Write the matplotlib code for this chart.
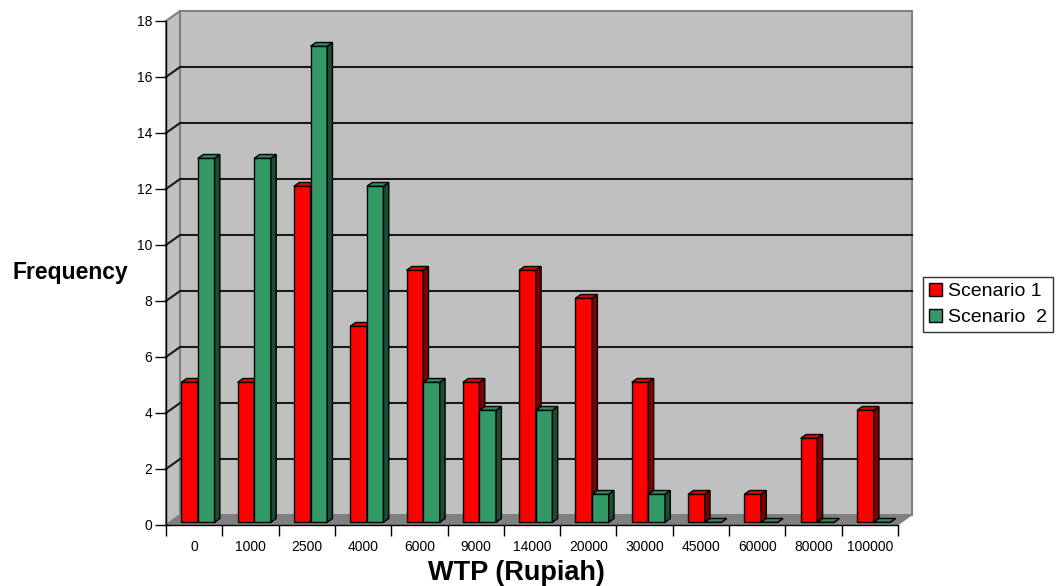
import matplotlib
matplotlib.use("Agg")
import matplotlib.pyplot as plt
from matplotlib.patches import Polygon, Patch
from matplotlib.lines import Line2D

plt.rcParams['font.family'] = ['Liberation Sans', 'DejaVu Sans']

# WTP categories and response counts
categories = ['0', '1000', '2500', '4000', '6000', '9000', '14000',
              '20000', '30000', '45000', '60000', '80000', '100000']
scenario1 = [5, 5, 12, 7, 9, 5, 9, 8, 5, 1, 1, 3, 4]
scenario2 = [13, 13, 17, 12, 5, 4, 4, 1, 1, 0, 0, 0, 0]
series_names = ['Scenario 1', 'Scenario  2']
y_ticks = list(range(0, 19, 2))

W, H, DPI = 1056, 586, 100
fig = plt.figure(figsize=(W / DPI, H / DPI), dpi=DPI)

# front plane of the 3-D box, in pixels
left_px, right_px, top_px, bottom_px = 166, 898, 21, 525
ax = fig.add_axes([left_px / W, (H - bottom_px) / H,
                   (right_px - left_px) / W, (bottom_px - top_px) / H])
n = len(categories)
ymax = y_ticks[-1]
ax.set_xlim(0, n)
ax.set_ylim(0, ymax)
ax.patch.set_visible(False)

# depth of the box (pixels) converted to data units
depth_px = (14.0, 10.0)
kx = depth_px[0] / ((right_px - left_px) / n)
ky = depth_px[1] / ((bottom_px - top_px) / ymax)


def proj(x, y, d):
    return (x + d * kx, y + d * ky)


def face(pts, fc, ec, lw=1.0, z=1.0):
    p = Polygon(pts, closed=True, facecolor=fc, edgecolor=ec, linewidth=lw,
                clip_on=False, zorder=z, joinstyle='miter')
    ax.add_patch(p)


wall = '#c0c0c0'
border = '#808080'
# back wall, side wall and floor
face([proj(0, 0, 1), proj(n, 0, 1), proj(n, ymax, 1), proj(0, ymax, 1)], wall, border, 1.5, 0.2)
face([proj(0, 0, 0), proj(0, 0, 1), proj(0, ymax, 1), proj(0, ymax, 0)], wall, border, 1.5, 0.2)

# gridlines on the walls
for v in y_ticks[1:-1]:
    xs, ys = zip(proj(0, v, 0), proj(0, v, 1), proj(n, v, 1))
    ax.add_line(Line2D(xs, ys, color='#1a1a1a', linewidth=1.5, zorder=0.3, clip_on=False))

face([proj(0, 0, 0), proj(n, 0, 0), proj(n, 0, 1), proj(0, 0, 1)], '#808080', '#808080', 0.5, 0.4)

# 3-D bars
bar_w = 0.295
start = 0.205
d0, d1 = 0.27, 0.65
styles = [('#ff0000', '#e80000', '#800000'),
          ('#339966', '#2e8a5c', '#1a4d33')]
z = 1.0
for i in range(n):
    for s, vals in enumerate([scenario1, scenario2]):
        v = vals[i]
        x0 = i + start + s * bar_w
        x1 = x0 + bar_w
        front_c, top_c, side_c = styles[s]
        face([proj(x0, 0, d0), proj(x1, 0, d0), proj(x1, v, d0), proj(x0, v, d0)], front_c, 'black', 1.0, z)
        face([proj(x1, 0, d0), proj(x1, 0, d1), proj(x1, v, d1), proj(x1, v, d0)], side_c, 'black', 1.0, z)
        face([proj(x0, v, d0), proj(x1, v, d0), proj(x1, v, d1), proj(x0, v, d1)], top_c, 'black', 1.0, z)
        z += 0.01

# axes, ticks and labels
for sp in ['top', 'right']:
    ax.spines[sp].set_visible(False)
for sp in ['left', 'bottom']:
    ax.spines[sp].set_color('black')
    ax.spines[sp].set_linewidth(1.0)
    ax.spines[sp].set_zorder(0.5)

ax.set_yticks(y_ticks)
ax.set_yticklabels([str(t) for t in y_ticks], fontsize=10)
ax.tick_params(axis='y', length=8, width=1, pad=2)

ax.set_xticks(range(n + 1))
ax.set_xticklabels([''] * (n + 1))
ax.tick_params(axis='x', which='major', length=8, width=1, direction='out')
ax.set_xticks([i + 0.5 for i in range(n)], minor=True)
ax.set_xticklabels(categories, minor=True, fontsize=10)
ax.tick_params(axis='x', which='minor', length=0, pad=11)

fig.text(70 / W, 1 - 272 / H, 'Frequency', fontsize=16.5, fontweight='bold',
         ha='center', va='center')
fig.text(516 / W, 1 - 573 / H, 'WTP (Rupiah)', fontsize=19.5, fontweight='bold',
         ha='center', va='center')

handles = [Patch(facecolor=styles[k][0], edgecolor='black', linewidth=1.0)
           for k in range(2)]
leg = fig.legend(handles, series_names, loc='upper left',
                 bbox_to_anchor=(923 / W, 1 - 277 / H), fontsize=14,
                 frameon=True, fancybox=False, borderaxespad=0,
                 handlelength=0.67, handleheight=0.67, handletextpad=0.3,
                 borderpad=0.3, labelspacing=0.45)
leg.get_frame().set_edgecolor('black')
leg.get_frame().set_linewidth(1.0)

fig.savefig('out.png', dpi=DPI)
